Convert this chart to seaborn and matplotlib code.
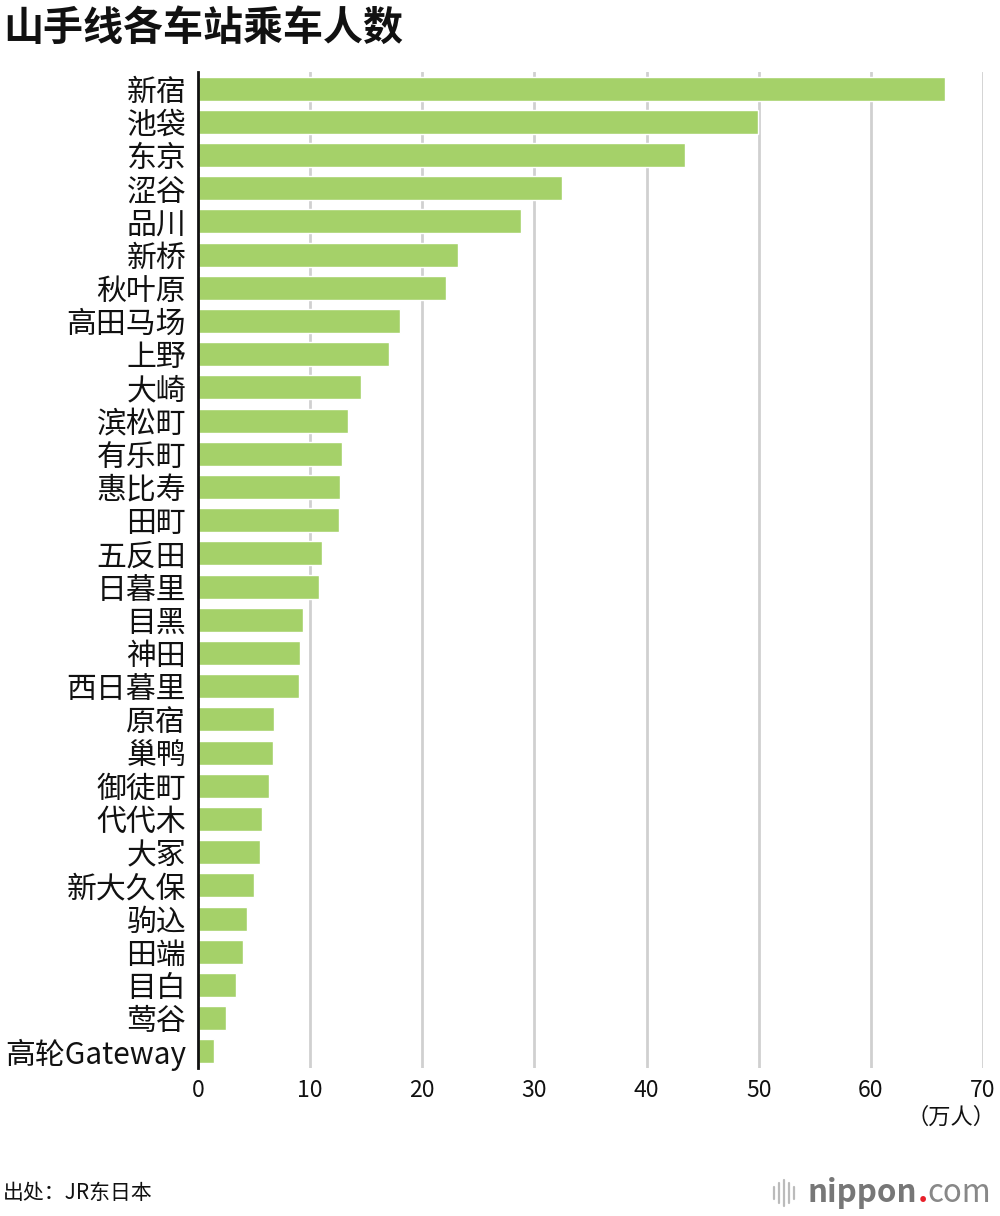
import matplotlib
matplotlib.use("Agg")
import matplotlib.pyplot as plt
import seaborn as sns
import pandas as pd
from matplotlib.lines import Line2D

stations = ["新宿", "池袋", "东京", "涩谷", "品川", "新桥", "秋叶原", "高田马场", "上野", "大崎",
            "滨松町", "有乐町", "惠比寿", "田町", "五反田", "日暮里", "目黑", "神田", "西日暮里", "原宿",
            "巢鸭", "御徒町", "代代木", "大冢", "新大久保", "驹込", "田端", "目白", "莺谷", "高轮Gateway"]
riders = [66.6, 49.9, 43.4, 32.5, 28.8, 23.2, 22.1, 18.0, 17.0, 14.5,
          13.4, 12.8, 12.7, 12.6, 11.1, 10.8, 9.4, 9.1, 9.0, 6.8,
          6.7, 6.3, 5.7, 5.5, 5.0, 4.4, 4.0, 3.4, 2.5, 1.4]
xticks = [0, 10, 20, 30, 40, 50, 60, 70]

sns.set_theme(style="white")
plt.rcParams['font.family'] = ['Noto Sans CJK SC', 'DejaVu Sans']

df = pd.DataFrame({"station": stations, "riders": riders})

fig = plt.figure(figsize=(10, 12.16), dpi=100)
ax = fig.add_axes([0.198, 0.1217, 0.785, 0.8191])

sns.barplot(data=df, y="station", x="riders", orient="h", color="#a5d169",
            saturation=1, width=0.72, ax=ax, zorder=3)

ax.set_xlim(0, 70)
ax.set_xticks(xticks)
ax.set_xticklabels([str(t) for t in xticks], fontsize=16.5)
ax.set_ylim(len(stations) - 0.5, -0.5)
ax.set_xlabel("")
ax.set_ylabel("")
ax.tick_params(axis="y", labelsize=21.5, length=0, pad=8.5)
ax.tick_params(axis="x", length=0, pad=8)
for lbl in ax.get_yticklabels():
    lbl.set_color("#111111")
for lbl in ax.get_xticklabels():
    lbl.set_color("#111111")

ax.grid(axis="x", color="#d0d0d0", linewidth=2, zorder=0)
ax.set_axisbelow(True)
for s in ["top", "right", "bottom"]:
    ax.spines[s].set_visible(False)
ax.spines["left"].set_color("#111111")
ax.spines["left"].set_linewidth(2)
ax.spines["left"].set_zorder(4)

fig.text(0.003, 0.977, "山手线各车站乘车人数", fontsize=28.8, fontweight="bold",
         ha="left", va="center", color="#111111")
fig.text(0.995, 0.081, "（万人）", fontsize=16, ha="right", va="center", color="#111111")
fig.text(0.003, 0.019, "出处：JR东日本", fontsize=15, ha="left", va="center", color="#111111")

# logo
fig.canvas.draw()
renderer = fig.canvas.get_renderer()
t1 = fig.text(0.807, 0.019, "nippon", fontsize=22.5, fontweight="bold", ha="left", va="center", color="#777777")
bb = t1.get_window_extent(renderer).transformed(fig.transFigure.inverted())
t2 = fig.text(bb.x1 + 0.001, 0.019, ".", fontsize=22.5, fontweight="bold", ha="left", va="center", color="#e8202a")
bb2 = t2.get_window_extent(renderer).transformed(fig.transFigure.inverted())
fig.text(bb2.x1, 0.019, "com", fontsize=22.5, ha="left", va="center", color="#888888")
bars_x = [0.774, 0.779, 0.784, 0.789, 0.794]
bars_h = [0.010, 0.016, 0.022, 0.016, 0.010]
for bx, bh in zip(bars_x, bars_h):
    fig.add_artist(Line2D([bx, bx], [0.019 - bh / 2, 0.019 + bh / 2], color="#bbbbbb",
                          linewidth=1.6, transform=fig.transFigure))

fig.savefig("out.png", dpi=100, facecolor="white")
